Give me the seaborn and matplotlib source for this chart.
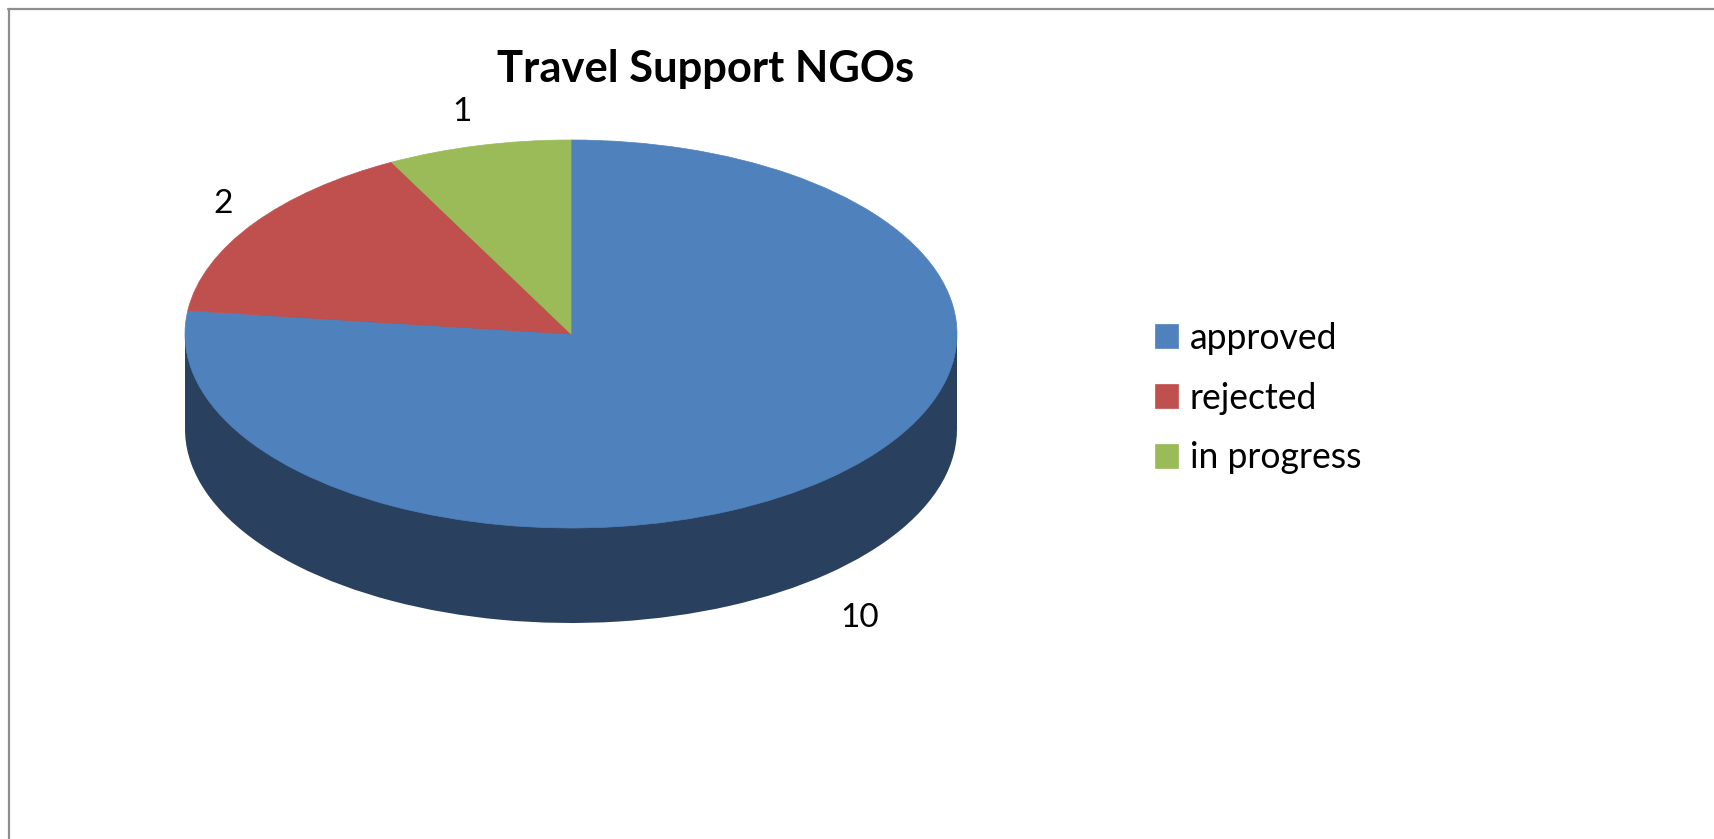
import matplotlib
matplotlib.use("Agg")
import matplotlib.pyplot as plt
import seaborn as sns
from matplotlib.lines import Line2D

# data
categories = ["approved", "rejected", "in progress"]
values = [10, 2, 1]
title = "Travel Support NGOs"
colors = ["#4F81BD", "#C0504D", "#9BBB59"]
wall_color = "#29405F"

sns.set_theme(style="white")
plt.rcParams["font.family"] = ["Lato", "DejaVu Sans"]
palette = sns.color_palette(colors)

W, H = 1714, 839
cx, cy = 571, 334      # top face centre, px
rx, ry = 386, 194      # top face radii, px
depth = 95 / ry

fig = plt.figure(figsize=(W / 100, H / 100), dpi=100, facecolor="white")
ax = fig.add_axes([0, 0, 1, 1])

# side wall: lower pie + band, then the top face
no_edge = {"linewidth": 0}
ax.pie(values, colors=[wall_color] * 3, startangle=90, counterclock=False,
       center=(0, -depth), radius=1, wedgeprops=no_edge)
ax.fill_between([-1, 1], -depth, 0, color=wall_color, lw=0)
wedges, _ = ax.pie(values, colors=palette, startangle=90, counterclock=False,
                   center=(0, 0), radius=1, wedgeprops=no_edge)

# hide the hairline seams between slices
for w in wedges:
    w.set_edgecolor(w.get_facecolor())
    w.set_linewidth(0.5)

# pie() forces equal aspect, the squashed look needs auto
ax.set_aspect("auto")
ax.set_xlim(-cx / rx, (W - cx) / rx)
ax.set_ylim(-(H - cy) / ry, cy / ry)
ax.axis("off")


def px(x, y):
    return (x - cx) / rx, (cy - y) / ry


for val, pos in zip(values, [(860, 618), (223, 204), (462, 112)]):
    ax.text(*px(*pos), str(val), fontsize=24, color="black", ha="center", va="center")

ax.text(*px(706, 69), title, fontsize=31.3, fontweight="bold", color="black",
        ha="center", va="center")

fig.legend(wedges, categories, loc="upper left", bbox_to_anchor=(1144 / W, 1 - 311 / H),
           frameon=False, fontsize=25.6, handlelength=0.65, handleheight=0.65,
           handletextpad=0.34, labelspacing=0.755, borderpad=0.3, borderaxespad=0,
           labelcolor="black")

# chart border, open on the right and bottom
border = "#8E8E8E"
fig.add_artist(Line2D([8.5 / W, 8.5 / W], [0, 1 - 9 / H], color=border, lw=1.6))
fig.add_artist(Line2D([8 / W, 1], [1 - 9 / H, 1 - 9 / H], color=border, lw=1.6))

fig.savefig("out.png", dpi=100, facecolor="white")
